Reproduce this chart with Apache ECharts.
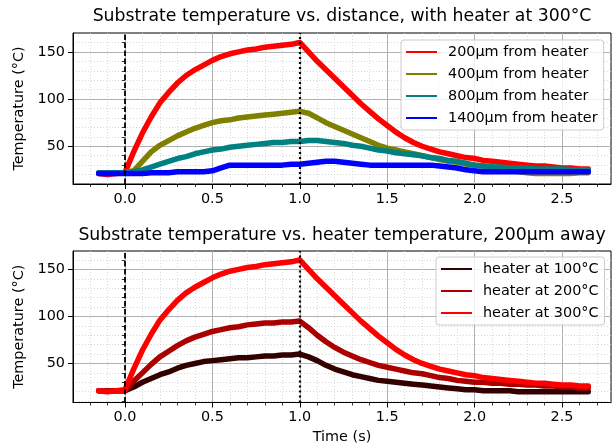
<!DOCTYPE html>
<html>
<head>
<meta charset="utf-8">
<script src="https://cdn.jsdelivr.net/npm/echarts@6/dist/echarts.min.js"></script>
<style>
html,body{margin:0;padding:0;background:#fff;}
#chart{width:614px;height:448px;}
</style>
</head>
<body>
<div id="chart"></div>
<script>
// ---- data (time in s, temperatures in °C) ----
var timeS = [-0.15,-0.10,-0.05,0.00,0.05,0.10,0.15,0.20,0.25,0.30,0.35,0.40,0.45,0.50,0.55,0.60,0.65,0.70,0.75,0.80,0.85,0.90,0.95,1.00,
  1.05,1.10,1.15,1.20,1.25,1.30,1.35,1.40,1.45,1.50,1.55,1.60,1.65,1.70,1.75,1.80,1.85,1.90,1.95,2.00,
  2.05,2.10,2.15,2.20,2.25,2.30,2.35,2.40,2.45,2.50,2.55,2.60,2.65];

// 200µm from heater, heater at 300°C (same measurement in both panels)
var t200um300C = [21,20,21,22,44,64,81,96,107,117,125,131,136,141,145,148,150,152,153,155,156,157,158,160,
  150,140,131,122,113,104,95,87,79,72,65,59,54,50,47,44,42,40,38,37,
  35,34,33,32,31,30,29,29,28,27,27,26,26];
var t400um = [22,22,22,22,24,34,44,51,56,61,65,69,72,75,77,78,80,81,82,83,84,85,86,87,
  85,80,75,71,67,63,59,55,51,48,46,44,42,40,38,36,34,33,31,30,
  29,28,27,25,23,22,21,21,21,21,21,22,22];
var t800um = [22,22,22,22,23,25,28,31,34,37,39,42,44,46,47,49,50,51,52,53,54,54,55,55,
  56,56,55,54,53,51,50,48,46,45,43,42,41,40,38,37,35,34,32,30,
  29,28,28,27,27,27,26,26,26,26,25,25,25];
var t1400um = [21,21,21,21,21,21,22,22,22,23,23,23,23,24,27,30,30,30,30,30,30,30,31,31,
  32,33,34,34,33,32,31,30,30,30,30,30,30,30,30,29,28,27,25,24,
  23,23,23,23,23,23,23,23,23,23,23,23,23];
var tHeater200C = [21,21,21,21,31,40,49,57,63,69,74,78,81,84,86,88,89,91,92,93,93,94,94,95,
  88,80,73,67,62,58,54,51,48,46,44,42,40,39,37,35,34,32,31,30,
  30,29,29,28,28,27,27,26,26,25,25,24,24];
var tHeater100C = [21,21,21,21,25,30,34,38,41,45,48,50,52,53,54,55,56,56,57,58,58,59,59,60,
  57,53,48,44,41,38,36,34,32,31,30,29,28,27,26,25,24,23,22,22,
  21,21,21,21,20,20,20,20,20,20,20,20,20];

var xMajorTicks = [0.0,0.5,1.0,1.5,2.0,2.5];
var xMinorTicks = [-0.2,-0.1,0.1,0.2,0.3,0.4,0.6,0.7,0.8,0.9,1.1,1.2,1.3,1.4,1.6,1.7,1.8,1.9,2.1,2.2,2.3,2.4,2.6,2.7];
var yMajorTicks = [50,100,150];
var yMinorTicks = [10,20,30,40,60,70,80,90,110,120,130,140,160];

var topTitle = 'Substrate temperature vs. distance, with heater at 300°C';
var bottomTitle = 'Substrate temperature vs. heater temperature, 200µm away';
var topNames = ['200µm from heater','400µm from heater','800µm from heater','1400µm from heater'];
var bottomNames = ['heater at 100°C','heater at 200°C','heater at 300°C'];
var eventMarks = [0, 1];

// ---- helpers ----
function pairs(vals){ return timeS.map(function(t,i){ return [t, vals[i]]; }); }
var FONT = 'DejaVu Sans';
var FS = 14.4;
var X_MIN = -0.297, X_MAX = 2.78;

function mainX(gi, showName){
  var ax = {
    gridIndex: gi, type:'value', min:X_MIN, max:X_MAX, position:'bottom',
    axisLine:{show:true, onZero:false, lineStyle:{color:'#000', width:1}},
    axisTick:{show:true, length:5, customValues:xMajorTicks, lineStyle:{color:'#000', width:1}},
    axisLabel:{show:true, customValues:xMajorTicks, margin:8, color:'#000', fontSize:FS, fontFamily:FONT,
      formatter:function(v){ return Number(v).toFixed(1); }},
    splitLine:{show:true, lineStyle:{color:'#b0b0b0', width:1}},
    z: 3
  };
  if (showName){
    ax.name = 'Time (s)'; ax.nameLocation = 'middle'; ax.nameGap = 28;
    ax.nameTextStyle = {color:'#000', fontSize:FS, fontFamily:FONT};
  }
  return ax;
}
function minorX(gi){
  return {
    gridIndex: gi, type:'value', min:X_MIN, max:X_MAX, position:'bottom',
    axisLine:{show:false},
    axisTick:{show:true, length:3, customValues:xMinorTicks, lineStyle:{color:'#000', width:0.8}},
    axisLabel:{show:false},
    splitLine:{show:true, lineStyle:{color:'#cfcfcf', width:0.8, type:[1,2]}}
  };
}
function mainY(gi, mn, mx){
  return {
    gridIndex: gi, type:'value', min:mn, max:mx, position:'left',
    name:'Temperature (°C)', nameLocation:'middle', nameGap:41,
    nameTextStyle:{color:'#000', fontSize:FS, fontFamily:FONT},
    axisLine:{show:true, onZero:false, lineStyle:{color:'#000', width:1}},
    axisTick:{show:true, length:5, customValues:yMajorTicks, lineStyle:{color:'#000', width:1}},
    axisLabel:{show:true, customValues:yMajorTicks, margin:8, color:'#000', fontSize:FS, fontFamily:FONT},
    splitLine:{show:true, lineStyle:{color:'#b0b0b0', width:1}},
    z: 3
  };
}
function minorY(gi, mn, mx){
  return {
    gridIndex: gi, type:'value', min:mn, max:mx, position:'left',
    axisLine:{show:false},
    axisTick:{show:true, length:3, customValues:yMinorTicks, lineStyle:{color:'#000', width:0.8}},
    axisLabel:{show:false},
    splitLine:{show:true, lineStyle:{color:'#cfcfcf', width:0.8, type:[1,2]}}
  };
}
function vlines(){
  return {
    silent:true, symbol:['none','none'], label:{show:false}, animation:false,
    data:[
      {xAxis:eventMarks[0], lineStyle:{color:'#000', width:1.8, type:[5.5,2.5]}},
      {xAxis:eventMarks[1], lineStyle:{color:'#000', width:2.2, type:[2,3]}}
    ]
  };
}
function line(name, vals, color, xi, yi, withMarks){
  var s = {
    name:name, type:'line', xAxisIndex:xi, yAxisIndex:yi, data:pairs(vals),
    showSymbol:false, symbol:'none', smooth:false,
    lineStyle:{color:color, width:5.5, join:'round', cap:'round'}, itemStyle:{color:color},
    emphasis:{disabled:true}, animation:false
  };
  if (withMarks) s.markLine = vlines();
  return s;
}

var legendCommon = {
  orient:'vertical', itemWidth:31, itemHeight:14, itemGap:8, padding:[5,6,5,5],
  backgroundColor:'rgba(255,255,255,0.8)', borderColor:'#cccccc', borderWidth:1, borderRadius:3,
  icon:'path://M0,0 L31,0 L31,2 L0,2 Z',
  textStyle:{color:'#000', fontSize:FS, fontFamily:FONT, padding:[0,0,0,6]},
  selectedMode:false
};

var option = {
  backgroundColor:'#ffffff',
  animation:false,
  title:[
    {text:topTitle, left:342, top:8, textAlign:'center', padding:0,
     textStyle:{color:'#000', fontSize:17.3, fontWeight:'normal', fontFamily:FONT}},
    {text:bottomTitle, left:342, top:227, textAlign:'center', padding:0,
     textStyle:{color:'#000', fontSize:17.3, fontWeight:'normal', fontFamily:FONT}}
  ],
  legend:[
    Object.assign({}, legendCommon, {left:401, top:40, data:topNames}),
    Object.assign({}, legendCommon, {left:436, top:257, data:bottomNames})
  ],
  grid:[
    {left:73, top:33, width:538, height:151, show:true, borderColor:'#000', borderWidth:1, backgroundColor:'transparent', containLabel:false},
    {left:73, top:251, width:538, height:151.5, show:true, borderColor:'#000', borderWidth:1, backgroundColor:'transparent', containLabel:false}
  ],
  xAxis:[ mainX(0,false), minorX(0), mainX(1,true), minorX(1) ],
  yAxis:[ mainY(0,10,170), minorY(0,10,170), mainY(1,8.5,169.5), minorY(1,8.5,169.5) ],
  series:[
    line(topNames[0], t200um300C, '#ff0000', 0, 0, false),
    line(topNames[1], t400um, '#808000', 0, 0, false),
    line(topNames[2], t800um, '#008080', 0, 0, false),
    line(topNames[3], t1400um, '#0000ff', 0, 0, true),
    line(bottomNames[0], tHeater100C, '#330000', 2, 2, false),
    line(bottomNames[1], tHeater200C, '#aa0000', 2, 2, false),
    line(bottomNames[2], t200um300C, '#ff0000', 2, 2, true)
  ]
};

var chart = echarts.init(document.getElementById('chart'), null, {renderer:'canvas'});
chart.setOption(option);
</script>
</body>
</html>
